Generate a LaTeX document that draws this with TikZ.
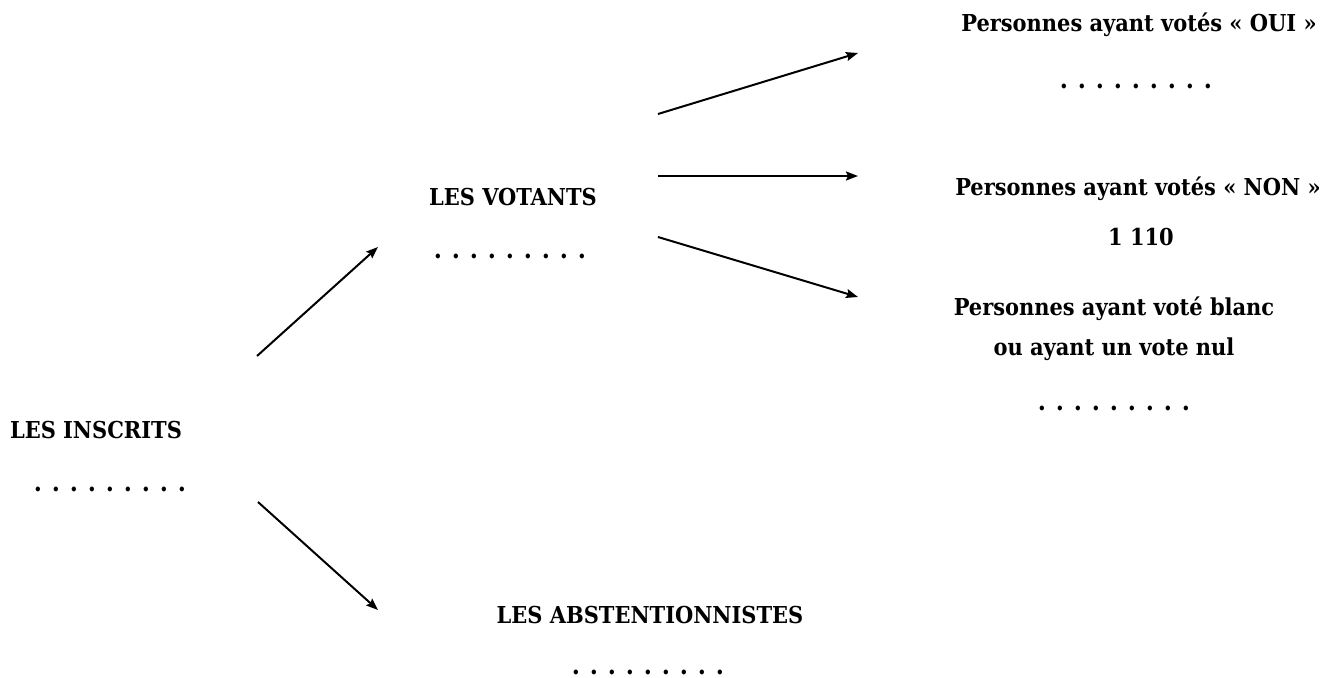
\documentclass[tikz,border=0pt]{standalone}
\usepackage{fontspec}
\setmainfont{DejaVu Serif Condensed}
\usetikzlibrary{arrows.meta}
\newcommand{\onedot}{\makebox[18pt]{.}}
\newcommand{\mydots}{\mbox{\onedot\onedot\onedot\onedot\onedot\onedot\onedot\onedot\onedot}}
\begin{document}
\begin{tikzpicture}[x=1pt,y=-1pt,
  lbl/.style={font=\fontsize{23.3}{40}\selectfont\bfseries, inner sep=0pt, align=center, anchor=base},
  dotrow/.style={font=\fontsize{26}{30}\selectfont\bfseries, inner sep=0pt, anchor=base},
  arr/.style={line width=2pt, -{Stealth[length=12pt,width=9pt,inset=2pt]}}]
\useasboundingbox (0,0) rectangle (1324,677);
% labels
\node[lbl] (inscrits) at (96,438) {LES INSCRITS};
\node[dotrow] (inscritsd) at (110,491) {\mydots};
\node[lbl] (votants) at (513,205) {LES VOTANTS};
\node[dotrow] (votantsd) at (510,258) {\mydots};
\node[lbl] (abst) at (650,623) {LES ABSTENTIONNISTES};
\node[dotrow] (abstd) at (648,674) {\mydots};
\node[lbl] (oui) at (1139,32) {Personnes ayant votés « OUI »};
\node[dotrow] (ouid) at (1136,88) {\mydots};
\node[lbl] (non) at (1138,195) {Personnes ayant votés « NON »};
\node[lbl] (nonv) at (1141,245) {1 110};
\node[lbl] (blanc) at (1114,355) {Personnes ayant voté blanc\\ou ayant un vote nul};
\node[dotrow] (blancd) at (1114,410) {\mydots};
% arrow end points
\coordinate (a1s) at (257,356); \coordinate (a1e) at (378,247);
\coordinate (a2s) at (258,502); \coordinate (a2e) at (378,610);
\coordinate (v1s) at (658,114); \coordinate (v1e) at (858,53);
\coordinate (v2s) at (658,176); \coordinate (v2e) at (858,176);
\coordinate (v3s) at (658,237); \coordinate (v3e) at (858,297);
\draw[arr] (a1s) -- (a1e);
\draw[arr] (a2s) -- (a2e);
\draw[arr] (v1s) -- (v1e);
\draw[arr] (v2s) -- (v2e);
\draw[arr] (v3s) -- (v3e);
\end{tikzpicture}
\end{document}
